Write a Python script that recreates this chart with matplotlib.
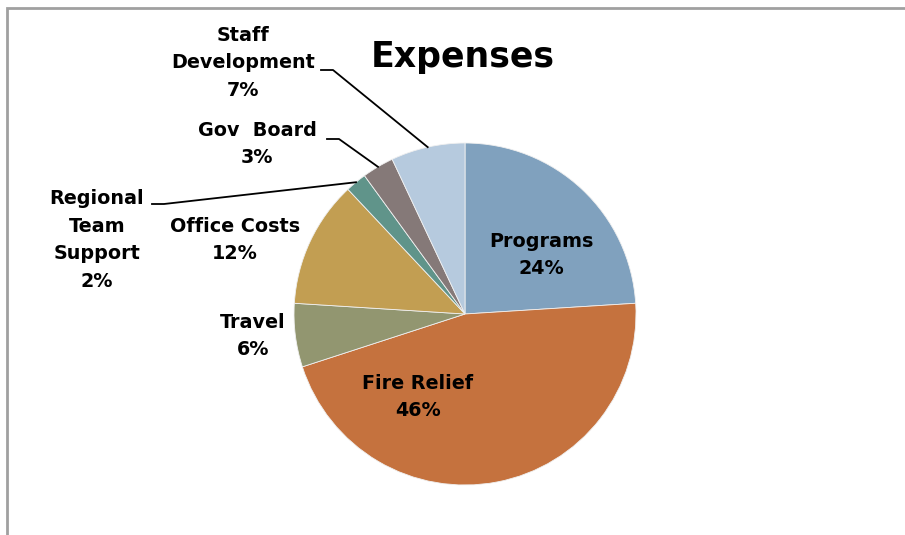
import numpy as np
import matplotlib.pyplot as plt
from matplotlib.patches import Rectangle

# data
labels = ['Programs', 'Fire Relief', 'Travel', 'Office Costs',
          'Regional\nTeam\nSupport', 'Gov  Board', 'Staff\nDevelopment']
values = [24, 46, 6, 12, 2, 3, 7]
colors = ['#80A1BE', '#C5723E', '#929670', '#C29E52',
          '#60948A', '#857978', '#B6CADE']

# pie centre / radius in pixels (905x535 canvas)
CX, CY, R = 465, 314, 171


def px(x, y):
    # pixel (from top-left) -> data coords
    return (x - CX) / R, (CY - y) / R


fig = plt.figure(figsize=(9.05, 5.35), dpi=100)
ax = fig.add_axes([0, 0, 1, 1])

wedges, _ = ax.pie(values, colors=colors, startangle=90, counterclock=False,
                   radius=1, center=(0, 0), frame=True,
                   wedgeprops=dict(edgecolor='#F0F0F0', linewidth=0.6))
ax.set_xlim((0 - CX) / R, (905 - CX) / R)
ax.set_ylim((CY - 535) / R, (CY - 0) / R)
ax.axis('off')

font = dict(family='DejaVu Sans', fontweight='bold', fontsize=13.8,
            ha='center', va='center', linespacing=1.58, color='black')

pcts = ['%d%%' % v for v in values]
label_pos = [(541, 255), (418, 397), (253, 336), (235, 240),
             (97, 240), (257, 144), (243, 63)]
for lab, pct, (x, y) in zip(labels, pcts, label_pos):
    ax.text(*px(x, y), lab + '\n' + pct, **font)

# leader lines: text end -> elbow -> wedge middle on the rim
leaders = {6: [(321, 70), (333, 70)],
           5: [(327, 139), (339, 139)],
           4: [(152, 204), (164, 204)]}
for i, pts in leaders.items():
    w = wedges[i]
    mid = np.deg2rad((w.theta1 + w.theta2) / 2)
    xs = [px(*p)[0] for p in pts] + [np.cos(mid)]
    ys = [px(*p)[1] for p in pts] + [np.sin(mid)]
    ax.plot(xs, ys, color='black', lw=1.3)

ax.text(*px(463, 57), 'Expenses', family='DejaVu Sans', fontweight='bold',
        fontsize=25, ha='center', va='center')

# chart frame, cut off at right and bottom
fig.patches.append(Rectangle((7 / 905, -0.1), 1.2, (535 - 8) / 535 + 0.1,
                             transform=fig.transFigure, fill=False,
                             edgecolor='#A0A0A0', lw=2))

fig.savefig('out.png', dpi=100)
